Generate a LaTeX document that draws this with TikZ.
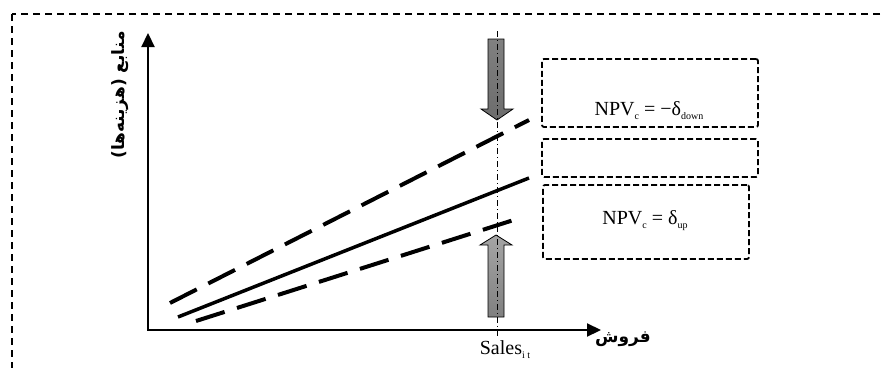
\documentclass[tikz,border=0pt]{standalone}
\usepackage{fontspec}
\setmainfont{Liberation Serif}
\newfontfamily\arabicfont[Script=Arabic]{DejaVu Sans}
\TeXXeTstate=1
\usetikzlibrary{arrows.meta}
\newcommand\lowsub[2][-4pt]{\raisebox{#1}{\fontsize{10}{10}\selectfont #2}}
\definecolor{arrowgray}{RGB}{128,128,128}
\definecolor{arrowlight}{RGB}{165,165,165}
\tikzset{
  frame/.style={line width=1.3pt, dash pattern=on 7pt off 5pt},
  axisline/.style={line width=2.2pt},
  bigdash/.style={line width=4pt, dash pattern=on 30pt off 13pt},
  solidline/.style={line width=3.5pt},
  dbox/.style={draw, line width=1.8pt, dash pattern=on 6pt off 3pt, rounded corners=2pt, inner sep=0pt},
  dashdot/.style={line width=0.8pt, dash pattern=on 6pt off 3pt on 1pt off 3pt},
  blockarrow/.style={draw, line width=0.8pt},
  latintext/.style={font=\fontsize{20}{24}\selectfont, inner sep=0pt},
  fatext/.style={font=\fontsize{17}{20}\selectfont\arabicfont\bfseries, inner sep=0pt},
}
\begin{document}
\begin{tikzpicture}[x=1pt,y=-1pt]
\useasboundingbox (0,0) rectangle (881,367);
\clip (0,0) rectangle (881,367);
% outer frame
\draw[frame] (12,14) rectangle (900,400);
% axes
\coordinate (O) at (148,330);
\coordinate (ytop) at (148,33);
\coordinate (xend) at (601,330);
\draw[axisline, {Triangle[length=14pt,width=13pt]}-{Triangle[length=14pt,width=13pt]}] (ytop) |- (xend);
% axis labels
\node[fatext, rotate=90] (ylab) at (120,95) {\beginR منابع (هزینه‌ها)\endR};
\node[fatext] (xlab) at (623,339) {\beginR فروش\endR};
\node[latintext] (sales) at (505,350) {Sales\lowsub{i t}};
% lines
\coordinate (u1) at (170,303); \coordinate (u2) at (529,120);
\coordinate (s1) at (178,317); \coordinate (s2) at (529,178);
\coordinate (l1) at (196,321); \coordinate (l2) at (520,218);
\draw[bigdash] (u1) -- (u2);
\draw[solidline] (s1) -- (s2);
\draw[bigdash] (l1) -- (l2);
% block arrows
\shade[top color=arrowgray, bottom color=arrowgray!85!black, blockarrow]
  (488,39) -- (504,39) -- (504,109) -- (513,109) -- (497,120) -- (481,109) -- (488,109) -- cycle;
\shade[top color=arrowlight, bottom color=arrowgray, blockarrow]
  (488,317) -- (504,317) -- (504,245) -- (512,245) -- (496,235) -- (480,245) -- (488,245) -- cycle;
% sales dash-dot line
\coordinate (vt) at (497,31);
\coordinate (vb) at (497,336);
\draw[dashdot] (vt) -- (vb);
% boxes
\node[dbox, minimum width=216pt, minimum height=68pt] (b1) at (650,93) {};
\node[dbox, minimum width=216pt, minimum height=38pt] (b2) at (650,158) {};
\node[dbox, minimum width=206pt, minimum height=74pt] (b3) at (646,222) {};
\node[latintext] (t1) at (649,111) {NPV\lowsub{c} = −δ\lowsub{down}};
\node[latintext] (t3) at (645,221) {NPV\lowsub{c} = δ\lowsub{up}};
\end{tikzpicture}
\end{document}
